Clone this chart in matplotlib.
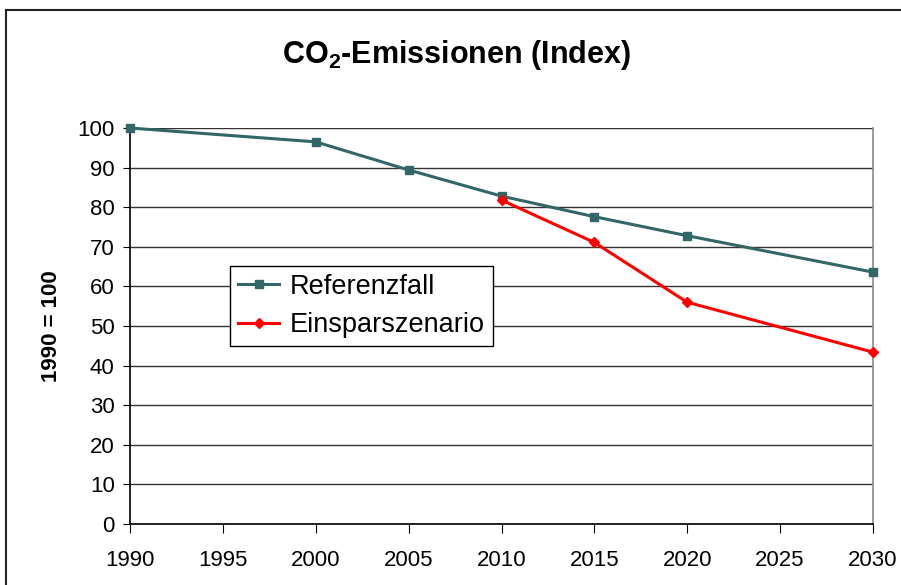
import matplotlib
matplotlib.use("Agg")
import matplotlib.pyplot as plt
from matplotlib.lines import Line2D

plt.rcParams['font.family'] = ['Liberation Sans', 'DejaVu Sans']

years_ref = [1990, 2000, 2005, 2010, 2015, 2020, 2030]
ref_values = [100, 96.5, 89.4, 82.8, 77.6, 72.8, 63.6]
years_spar = [2010, 2015, 2020, 2030]
spar_values = [81.8, 71.1, 56.0, 43.4]
x_ticks = [1990, 1995, 2000, 2005, 2010, 2015, 2020, 2025, 2030]
y_ticks = list(range(0, 101, 10))

fig = plt.figure(figsize=(9.01, 5.85), dpi=100)
ax = fig.add_axes([130/901, 1-524/585, (873-130)/901, (524-128)/585])

ax.plot(years_ref, ref_values, color='#336666', lw=2.2, marker='s', ms=6,
        label='Referenzfall', clip_on=False, zorder=3)
ax.plot(years_spar, spar_values, color='#FF0000', lw=2.2, marker='D', ms=5.5,
        label='Einsparszenario', clip_on=False, zorder=4)

ax.set_xlim(1990, 2030)
ax.set_ylim(0, 100)
ax.set_xticks(x_ticks)
ax.set_yticks(y_ticks)
ax.tick_params(axis='both', labelsize=16, direction='out', color='black')
ax.tick_params(axis='x', length=6.5, pad=12)
ax.tick_params(axis='y', length=5, pad=6)
ax.yaxis.grid(True, color='#333333', lw=1.0)
ax.set_axisbelow(True)
for s in ['left', 'bottom']:
    ax.spines[s].set_color('black')
    ax.spines[s].set_linewidth(1.2)
ax.spines['top'].set_visible(False)
ax.spines['right'].set_color('#888888')
ax.spines['right'].set_linewidth(1.2)

ax.set_ylabel('1990 = 100', fontsize=16, fontweight='bold', labelpad=11)
fig.text(457/901, 1-55/585, 'CO$_\\mathregular{2}$-Emissionen (Index)', fontsize=22,
         fontweight='bold', ha='center', va='center')

leg = ax.legend(loc='upper left', bbox_to_anchor=(0.135, 0.652), fontsize=19.5,
                frameon=True, fancybox=False, edgecolor='black', framealpha=1,
                handlelength=1.5, handletextpad=0.4, borderpad=0.3,
                labelspacing=0.45, borderaxespad=0)
leg.get_frame().set_linewidth(1.0)

# outer chart frame
fig.add_artist(Line2D([6/901, 6/901], [0, 1-10/585], color='#222222', lw=1.5,
                      transform=fig.transFigure))
fig.add_artist(Line2D([6/901, 1], [1-10/585, 1-10/585], color='#222222', lw=1.5,
                      transform=fig.transFigure))

fig.savefig('out.png', dpi=100)
